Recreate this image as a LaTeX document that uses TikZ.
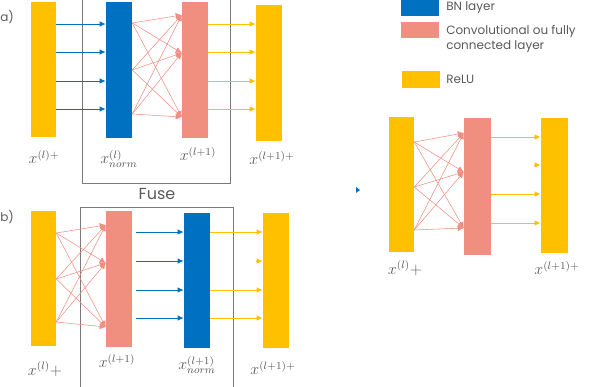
\documentclass[tikz,border=0pt]{standalone}
\usepackage{fontspec}
\setmainfont{Poppins}
\usetikzlibrary{arrows.meta}
\usetikzlibrary{fit}
\definecolor{bnblue}{RGB}{0,112,192}
\definecolor{cvpink}{RGB}{240,142,128}
\definecolor{reluyellow}{RGB}{255,192,0}
\definecolor{txtgray}{RGB}{89,89,89}

\tikzset{
  layer/.style={inner sep=0pt, draw=none},
  frame/.style={draw=txtgray!80, line width=0.6pt},
  bnarrow/.style={bnblue, line width=0.7pt, -{Latex[length=4.5pt,width=4pt]}},
  rlarrow/.style={reluyellow, line width=0.7pt, -{Latex[length=4.5pt,width=4pt]}},
  cvarrow/.style={cvpink, line width=0.4pt, -{Latex[length=4.5pt,width=4.5pt]}},
  mlbl/.style={text=txtgray, font=\large, inner sep=0pt},
  tlbl/.style={text=txtgray, font=\small, inner sep=0pt, anchor=west},
}

\begin{document}
\begin{tikzpicture}[x=0.75pt, y=-0.75pt]
  \useasboundingbox (0,0) rectangle (600,386);
  \clip (0,0) rectangle (600,386);

  % a) BN after the layer
  \node[tlbl] (lbla) at (0,17) {a)};
  \draw[frame] (82,-5) rectangle (230,183);
  \node[layer, fill=reluyellow, fit={(31,2) (56,137)}] (ya1) {};
  \node[layer, fill=bnblue, fit={(106,2) (132,138)}] (ba1) {};
  \node[layer, fill=cvpink, fit={(182,2) (208,138)}] (pa1) {};
  \node[layer, fill=reluyellow, fit={(256,5) (282,141)}] (ya2) {};
  \foreach \y in {24,52,81,109} {
    \draw[bnarrow] (ya1.east |- 0,\y) -- (ba1.west |- 0,\y);
    \draw[rlarrow] (pa1.east |- 0,\y) -- (ya2.west |- 0,\y);
  }
  \foreach \s in {23,70,114}
    \foreach \t in {15,53,117}
      \draw[cvarrow] (ba1.east |- 0,\s) -- (pa1.west |- 0,\t);
  \node[mlbl] (xa1) at (44,157) {$x^{(l)+}$};
  \node[mlbl] (xa2) at (119,159) {$x^{(l)}_{norm}$};
  \node[mlbl] (xa3) at (198,154) {$x^{(l+1)}$};
  \node[mlbl] (xa4) at (272,158) {$x^{(l+1)+}$};

  % b) BN before the activation
  \node[text=txtgray, font=\large, inner sep=0pt] (fuse) at (157,194) {Fuse};
  \node[tlbl] (lblb) at (0,217) {b)};
  \draw[frame] (80,207) rectangle (233,392);
  \node[layer, fill=reluyellow, fit={(31,211) (56,346)}] (yb1) {};
  \node[layer, fill=cvpink, fit={(106,211) (132,347)}] (pb1) {};
  \node[layer, fill=bnblue, fit={(184,213) (210,348)}] (bb1) {};
  \node[layer, fill=reluyellow, fit={(263,213) (289,348)}] (yb2) {};
  \foreach \s in {233,279,322}
    \foreach \t in {225,263,327}
      \draw[cvarrow] (yb1.east |- 0,\s) -- (pb1.west |- 0,\t);
  \foreach \y in {232,261,290,318}
    \draw[bnarrow] ([xshift=2.5pt]pb1.east |- 0,\y) -- (bb1.west |- 0,\y);
  \foreach \y in {232,290,318}
    \draw[rlarrow] (bb1.east |- 0,\y) -- (yb2.west |- 0,\y);
  \coordinate (hb) at (yb2.west |- 0,261);
  \draw[rlarrow] ([xshift=-5pt]hb) -- (hb);
  \node[mlbl] (xb1) at (45,369) {$x^{(l)}{+}$};
  \node[mlbl] (xb2) at (117,361) {$x^{(l+1)}$};
  \node[mlbl] (xb3) at (197,365) {$x^{(l+1)}_{norm}$};
  \node[mlbl] (xb4) at (273,368) {$x^{(l+1)+}$};

  % legend
  \node[layer, fill=bnblue, fit={(401,0) (439,16)}] (kbn) {};
  \node[layer, fill=cvpink, fit={(401,22) (439,38)}] (kcv) {};
  \node[layer, fill=reluyellow, fit={(402,71) (440,88)}] (krl) {};
  \node[tlbl] (tbn) at (446,8) {BN layer};
  \node[tlbl, align=left] (tcv) at (446,39) {Convolutional ou fully\\connected layer};
  \node[tlbl] (trl) at (446,79) {ReLU};

  % fused result
  \fill[bnblue] (356,187) -- (360,190) -- (356,193) -- cycle;
  \node[layer, fill=reluyellow, fit={(389,117) (414,252)}] (yc1) {};
  \node[layer, fill=cvpink, fit={(464,118) (491,255)}] (pc1) {};
  \node[layer, fill=reluyellow, fit={(541,118) (568,253)}] (yc2) {};
  \foreach \s in {142,187,230}
    \foreach \t in {133,172,228}
      \draw[cvarrow] (yc1.east |- 0,\s) -- (pc1.west |- 0,\t);
  \foreach \y in {137,194,223}
    \draw[rlarrow] (pc1.east |- 0,\y) -- (yc2.west |- 0,\y);
  \coordinate (hc) at (yc2.west |- 0,165);
  \draw[rlarrow] ([xshift=-5pt]hc) -- (hc);
  \node[mlbl] (xc1) at (405,268) {$x^{(l)}{+}$};
  \node[mlbl] (xc2) at (557,268) {$x^{(l+1)+}$};
\end{tikzpicture}
\end{document}
